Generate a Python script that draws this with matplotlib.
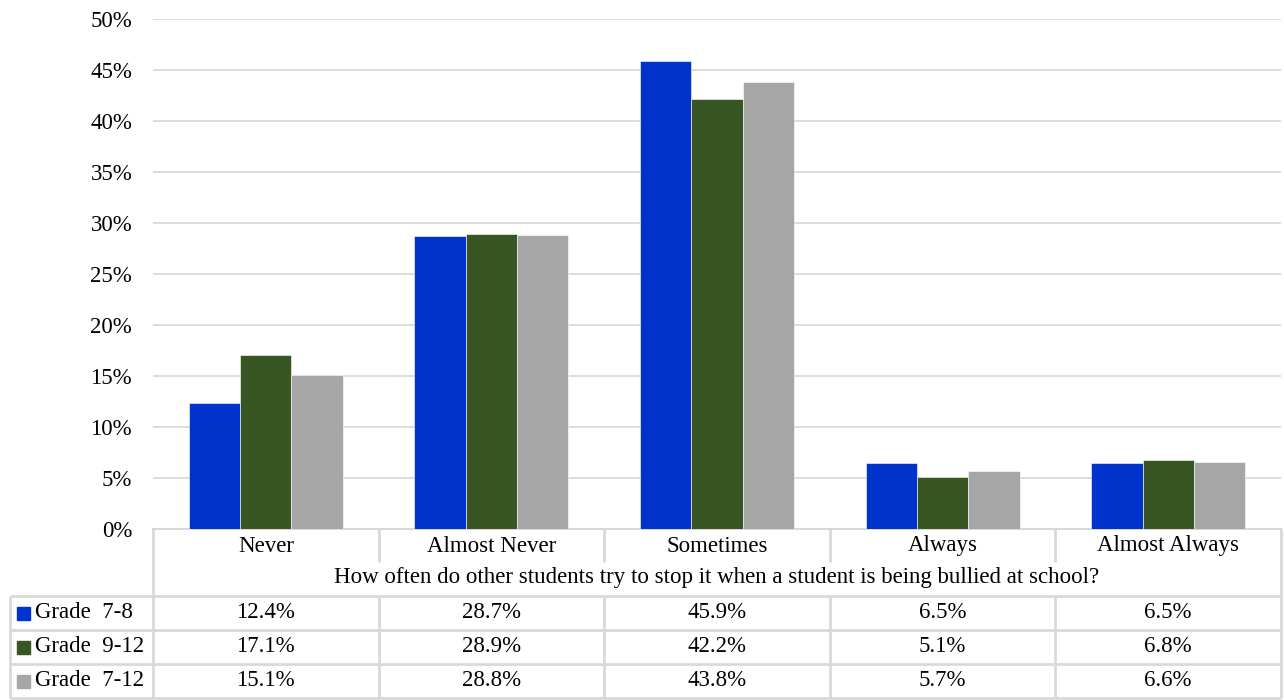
import numpy as np
import matplotlib
matplotlib.use("Agg")
import matplotlib.pyplot as plt
from matplotlib.ticker import PercentFormatter

plt.rcParams["font.family"] = ["Liberation Serif", "DejaVu Serif"]

categories = ["Never", "Almost Never", "Sometimes", "Always", "Almost Always"]
series_names = ["Grade  7-8", "Grade  9-12", "Grade  7-12"]
grade_7_8 = [12.4, 28.7, 45.9, 6.5, 6.5]
grade_9_12 = [17.1, 28.9, 42.2, 5.1, 6.8]
grade_7_12 = [15.1, 28.8, 43.8, 5.7, 6.6]
xlabel = "How often do other students try to stop it when a student is being bullied at school?"
colors = ["#0033CC", "#375623", "#A6A6A6"]
GRID = "#d9d9d9"
FS = 16.5

W, H = 1284, 700
fig = plt.figure(figsize=(W / 100, H / 100), dpi=100)

# pixel geometry
L, R, T, B = 153, 1281, 19, 529
ax = fig.add_axes([L / W, 1 - B / H, (R - L) / W, (B - T) / H])

series = [grade_7_8, grade_9_12, grade_7_12]
x = np.arange(len(categories))
bw = 0.2275
for k, (vals, col) in enumerate(zip(series, colors)):
    ax.bar(x + (k - 1) * bw, vals, bw, color=col, edgecolor="white", linewidth=0.4, zorder=3)

ax.set_xlim(-0.5, len(categories) - 0.5)
ax.set_ylim(0, 50)
ax.set_yticks(np.arange(0, 51, 5))
ax.yaxis.set_major_formatter(PercentFormatter(decimals=0))
ax.tick_params(axis="y", length=0, labelsize=FS, pad=15)
ax.set_xticks([])
ax.grid(axis="y", color=GRID, linewidth=1.3, zorder=0)
for s in ["top", "right", "left"]:
    ax.spines[s].set_visible(False)
ax.spines["bottom"].set_color(GRID)
ax.spines["bottom"].set_linewidth(1.5)

# data table drawn in pixel coordinates
ov = fig.add_axes([0, 0, 1, 1])
ov.set_xlim(0, W)
ov.set_ylim(H, 0)
ov.axis("off")
ov.patch.set_alpha(0)

cw = (R - L) / len(categories)
bounds = [L + i * cw for i in range(len(categories) + 1)]
LX = 10
row_lines = [596, 630, 664, 698]
lw = 2

def hline(y, x0, x1):
    ov.plot([x0, x1], [y, y], color=GRID, lw=lw, solid_capstyle="butt")

def vline(xp, y0, y1):
    ov.plot([xp, xp], [y0, y1], color=GRID, lw=lw, solid_capstyle="butt")

vline(L, B, 698)
vline(R, B, 698)
for b in bounds[1:-1]:
    vline(b, B, 562)
    vline(b, 596, 698)
for y in row_lines:
    hline(y, LX, R)
vline(LX, 596, 698)

for i, c in enumerate(categories):
    ov.text((bounds[i] + bounds[i + 1]) / 2, 546, c, ha="center", va="center", fontsize=FS)
ov.text((L + R) / 2, 578, xlabel, ha="center", va="center", fontsize=FS)

for r, (name, vals, col) in enumerate(zip(series_names, series, colors)):
    yc = (row_lines[r] + row_lines[r + 1]) / 2
    ov.add_patch(plt.Rectangle((17, yc - 6), 13, 13, color=col))
    ov.text(35, yc, name, ha="left", va="center", fontsize=FS)
    for i, v in enumerate(vals):
        ov.text((bounds[i] + bounds[i + 1]) / 2, yc, f"{v:.1f}%", ha="center", va="center", fontsize=FS)

fig.savefig("out.png", dpi=100)
